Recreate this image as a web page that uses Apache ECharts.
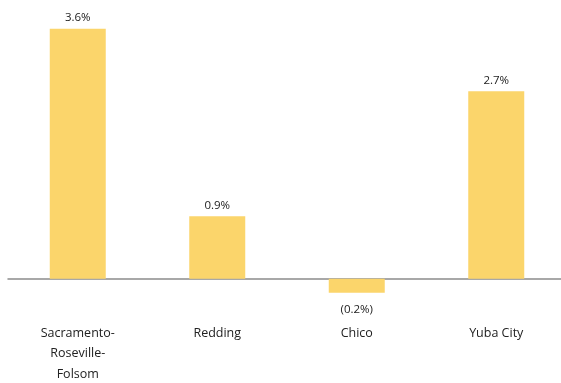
<!DOCTYPE html>
<html>
<head>
<meta charset="utf-8">
<script src="https://cdn.jsdelivr.net/npm/echarts@6/dist/echarts.min.js"></script>
<style>
  html, body { margin: 0; padding: 0; background: #fff; }
  #chart { width: 561px; height: 383px; }
</style>
</head>
<body>
<div id="chart"></div>
<script>
const categories = ['Sacramento-\nRoseville-\nFolsom', 'Redding', 'Chico', 'Yuba City'];
const growth = [3.6, 0.9, -0.2, 2.7];

const fmt = v => v < 0 ? '(' + Math.abs(v).toFixed(1) + '%)' : v.toFixed(1) + '%';

const chart = echarts.init(document.getElementById('chart'));

// y range -0.2..4 so that zero sits at y=279
chart.setOption({
  animation: false,
  grid: { left: 8, width: 558, top: 1, height: 291.7, containLabel: false, outerBoundsMode: 'none' },
  xAxis: {
    type: 'category',
    data: categories,
    axisLine: { onZero: true, lineStyle: { color: '#8c8c8c', width: 1.5 } },
    axisTick: { show: false },
    axisLabel: {
      interval: 0,
      margin: 30,
      color: '#222',
      fontFamily: 'Open Sans',
      fontSize: 12.5,
      lineHeight: 20.5,
      verticalAlign: 'top'
    }
  },
  yAxis: {
    type: 'value',
    min: -0.2,
    max: 4,
    show: false
  },
  series: [{
    type: 'bar',
    barWidth: 56,
    data: growth.map(v => ({
      value: v,
      label: { position: v < 0 ? 'bottom' : 'top', distance: v < 0 ? 11 : 5 }
    })),
    itemStyle: { color: '#fbd56b' },
    label: {
      show: true,
      color: '#222',
      fontFamily: 'Open Sans',
      fontSize: 11.5,
      formatter: p => fmt(p.value)
    }
  }]
});
</script>
</body>
</html>
